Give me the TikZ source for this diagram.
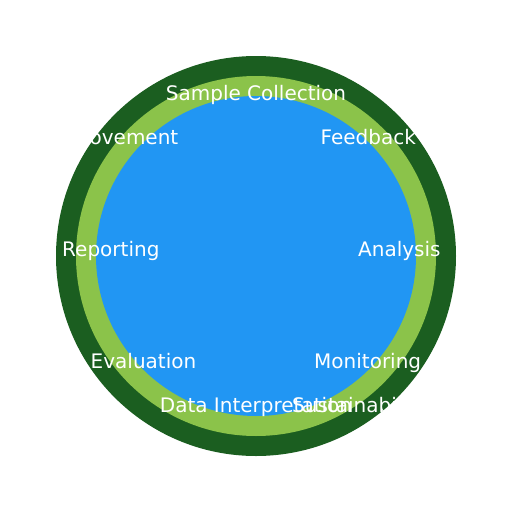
\documentclass[tikz,border=0pt]{standalone}
\usepackage{fontspec}
\setmainfont{DejaVu Sans}
\definecolor{ringdark}{HTML}{1B5E20}
\definecolor{ringlight}{HTML}{8BC34A}
\definecolor{core}{HTML}{2196F3}
\begin{document}
\begin{tikzpicture}[x=1pt,y=-1pt,
  lbl/.style={text=white,inner sep=0pt,font=\fontsize{20}{24}\selectfont}]
\useasboundingbox (0,0) rectangle (512,512);
\fill[ringdark] (256,256) circle (200);
\fill[ringlight] (256,256) circle (180);
\fill[core] (256,256) circle (160);
\node[lbl,anchor=base] (sc) at (256,100.7) {Sample Collection};
\node[lbl,anchor=base west] (fb) at (320.5,144) {Feedback};
\node[lbl,anchor=base east] (im) at (178.5,144) {Improvement};
\node[lbl,anchor=base west] (an) at (358,256) {Analysis};
\node[lbl,anchor=base west] (rp) at (62,256) {Reporting};
\node[lbl,anchor=base west] (ev) at (90.5,368) {Evaluation};
\node[lbl,anchor=base west] (mo) at (314,368) {Monitoring};
\node[lbl,anchor=base] (di) at (256,412) {Data Interpretation};
\node[lbl,anchor=base west] (su) at (292,412) {Sustainability};
\end{tikzpicture}
\end{document}
